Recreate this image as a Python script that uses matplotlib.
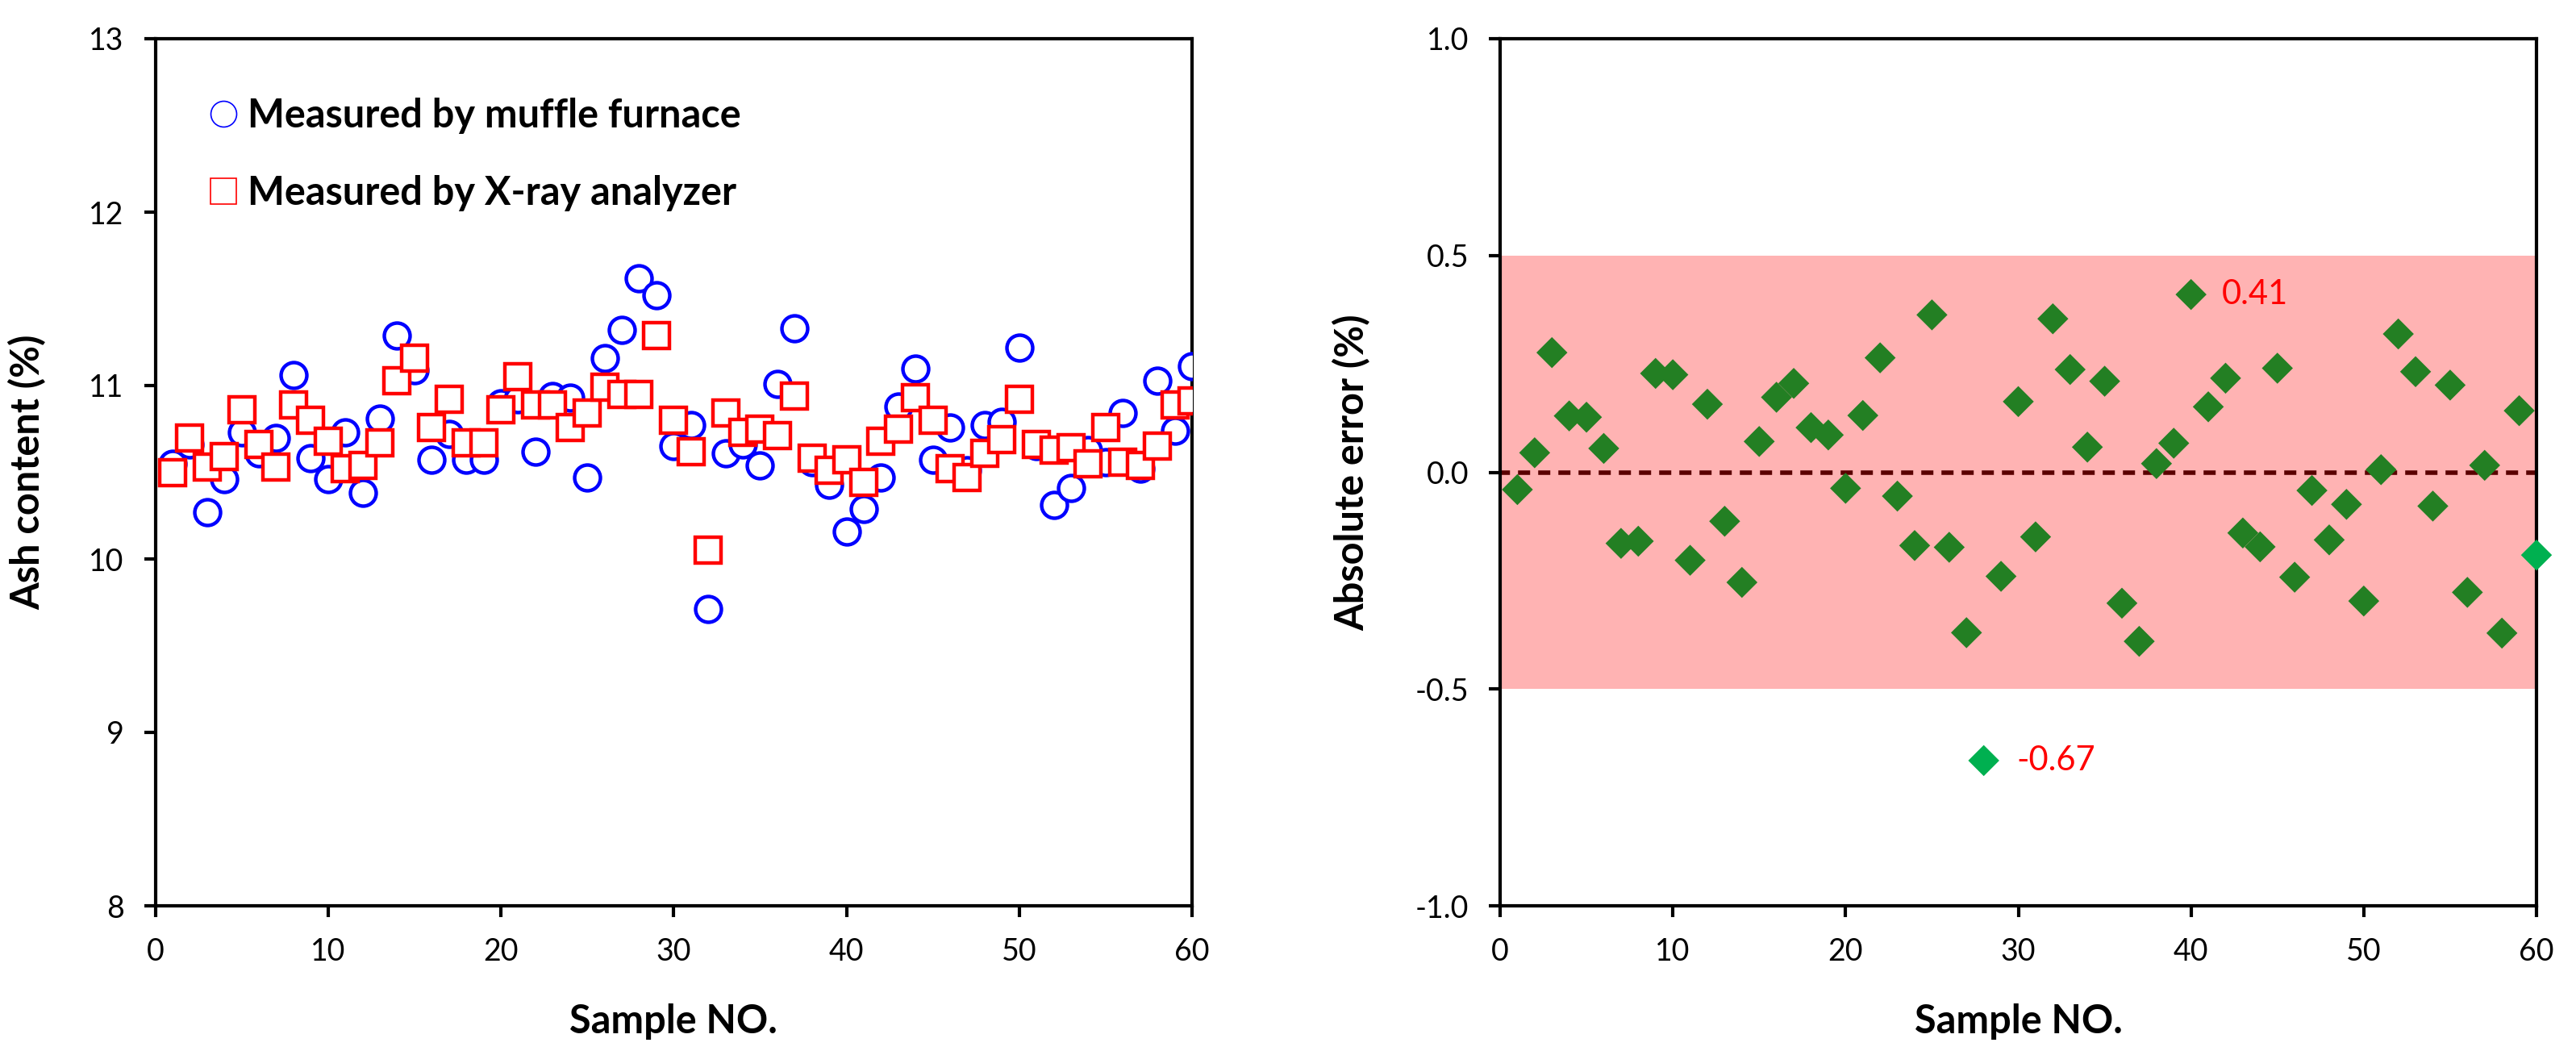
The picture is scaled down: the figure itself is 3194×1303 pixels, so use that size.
import matplotlib
matplotlib.use("Agg")
import matplotlib.pyplot as plt
from matplotlib.lines import Line2D
import numpy as np

plt.rcParams['font.family'] = ['Lato', 'DejaVu Sans']
plt.rcParams['axes.unicode_minus'] = False

# ---------------- data ----------------
sample_no = list(range(1, 61))

muffle = [10.55, 10.66, 10.27, 10.46, 10.73, 10.61, 10.70, 11.06, 10.58, 10.46,
          10.73, 10.38, 10.81, 11.29, 11.09, 10.57, 10.72, 10.57, 10.57, 10.90,
          10.92, 10.62, 10.94, 10.93, 10.47, 11.16, 11.32, 11.62, 11.52, 10.65,
          10.77, 9.71, 10.61, 10.66, 10.54, 11.01, 11.33, 10.56, 10.43, 10.16,
          10.29, 10.47, 10.88, 11.10, 10.57, 10.76, 10.51, 10.77, 10.79, 11.22,
          10.65, 10.31, 10.41, 10.63, 10.56, 10.84, 10.52, 11.03, 10.74, 11.11]

xray = [10.50, 10.70, 10.53, 10.59, 10.86, 10.66, 10.53, 10.89, 10.80, 10.68,
        10.52, 10.54, 10.67, 11.03, 11.16, 10.76, 10.92, 10.67, 10.67, 10.86,
        11.05, 10.89, 10.89, 10.76, 10.84, 10.99, 10.95, 10.95, 11.29, 10.80,
        10.62, 10.05, 10.84, 10.73, 10.75, 10.71, 10.94, 10.58, 10.51, 10.57,
        10.44, 10.68, 10.75, 10.93, 10.80, 10.52, 10.47, 10.61, 10.69, 10.92,
        10.66, 10.63, 10.64, 10.55, 10.76, 10.56, 10.54, 10.65, 10.89, 10.91]

abs_error = [-0.040, 0.045, 0.276, 0.130, 0.127, 0.055, -0.164, -0.159, 0.228, 0.225,
             -0.203, 0.157, -0.113, -0.254, 0.071, 0.173, 0.205, 0.103, 0.086, -0.037,
             0.131, 0.264, -0.055, -0.169, 0.363, -0.173, -0.370, -0.665, -0.240, 0.163,
             -0.149, 0.354, 0.237, 0.058, 0.210, -0.302, -0.390, 0.020, 0.067, 0.410,
             0.151, 0.217, -0.140, -0.172, 0.240, -0.242, -0.042, -0.156, -0.074, -0.297,
             0.006, 0.319, 0.232, -0.078, 0.201, -0.277, 0.016, -0.371, 0.142, -0.191]

highlight_idx = [27, 59]          # sample 28 and sample 60 drawn in bright green
max_label = "0.41"
min_label = "-0.67"
band_limits = (-0.5, 0.5)

legend_labels = ["Measured by muffle furnace", "Measured by X-ray analyzer"]

# ---------------- figure ----------------
W, H, DPI = 3194, 1303, 200
fig = plt.figure(figsize=(W / DPI, H / DPI), dpi=DPI)

axL = fig.add_axes([192.5 / W, 1 - 1123 / H, 1285.5 / W, 1075 / H])
axR = fig.add_axes([1860 / W, 1 - 1123 / H, 1285 / W, 1075 / H])

tick_fs = 13.5
label_fs = 17.5

for ax in (axL, axR):
    for s in ax.spines.values():
        s.set_linewidth(1.5)
        s.set_color('black')
    ax.tick_params(direction='out', length=5, width=1.5, labelsize=tick_fs,
                   pad=9, colors='black', top=False, right=False)
    ax.set_xlim(0, 60)
    ax.set_xticks(np.arange(0, 61, 10))
    ax.set_xlabel("Sample NO.", fontsize=label_fs, fontweight='bold')
    ax.xaxis.set_label_coords(0.5, -0.113)

# ---- left panel ----
axL.plot(sample_no, muffle, linestyle='none', marker='o', markersize=11.5,
         markerfacecolor='white', markeredgecolor='#0000FF', markeredgewidth=1.6,
         zorder=3)
axL.plot(sample_no, xray, linestyle='none', marker='s', markersize=11.5,
         markerfacecolor='white', markeredgecolor='#FF0000', markeredgewidth=1.6,
         zorder=4)
axL.set_ylim(8, 13)
axL.set_yticks(np.arange(8, 13.1, 1))
axL.set_ylabel("Ash content (%)", fontsize=label_fs, fontweight='bold')
axL.yaxis.set_label_coords(-0.105, 0.5)

handles = [
    Line2D([], [], linestyle='none', marker='o', markersize=11.5,
           markerfacecolor='white', markeredgecolor='#0000FF', markeredgewidth=0.6),
    Line2D([], [], linestyle='none', marker='s', markersize=11.5,
           markerfacecolor='white', markeredgecolor='#FF0000', markeredgewidth=0.6),
]
leg = axL.legend(handles, legend_labels, loc='upper left',
                 bbox_to_anchor=(0.0516, 0.932), frameon=False,
                 prop={'family': ['Lato', 'DejaVu Sans'], 'weight': 'bold', 'size': 17.5},
                 handlelength=0.75, handletextpad=0.25, labelspacing=1.05,
                 borderpad=0, borderaxespad=0)

# ---- right panel ----
axR.axhspan(band_limits[0], band_limits[1], facecolor='#FFB3B3', edgecolor='none', zorder=1)
axR.axhline(0, color='#5A0000', linewidth=2.0, linestyle=(0.5, (2.7, 1.8)), zorder=2)

colors = ['#00B050' if i in highlight_idx else '#237F23' for i in range(len(sample_no))]
axR.scatter(sample_no, abs_error, marker='D', s=9.8 ** 2, c=colors,
            edgecolors='none', zorder=3, clip_on=False)
axR.set_ylim(-1.0, 1.0)
axR.set_yticks(np.arange(-1.0, 1.01, 0.5))
axR.yaxis.set_major_formatter(matplotlib.ticker.FormatStrFormatter('%.1f'))
axR.set_ylabel("Absolute error (%)", fontsize=label_fs, fontweight='bold')
axR.yaxis.set_label_coords(-0.125, 0.5)

i_max = int(np.argmax(abs_error))
i_min = int(np.argmin(abs_error))
axR.text(sample_no[i_max] + 1.8, abs_error[i_max], max_label, color='#FF0000',
         fontsize=15, va='center', ha='left')
axR.text(sample_no[i_min] + 1.9, abs_error[i_min], min_label, color='#FF0000',
         fontsize=15, va='center', ha='left')

fig.savefig("out.png", dpi=DPI)
